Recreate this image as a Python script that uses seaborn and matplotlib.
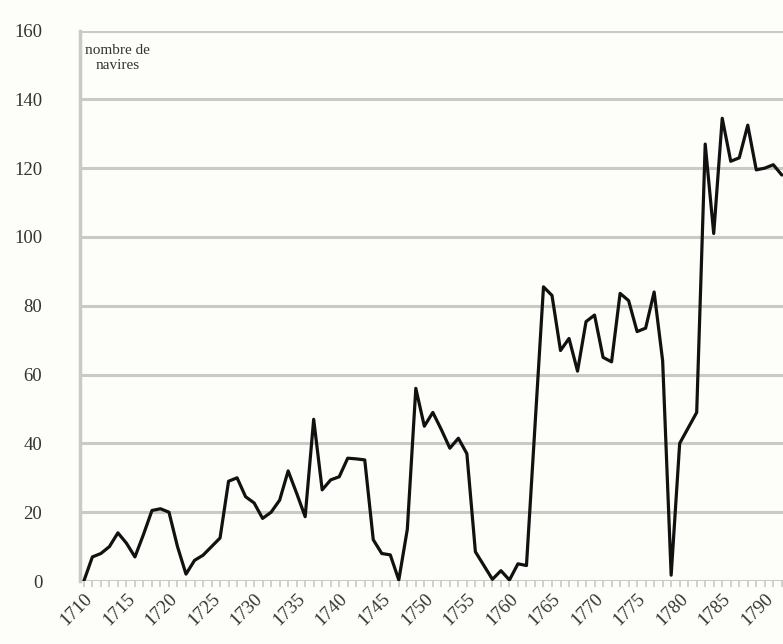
import matplotlib
matplotlib.use('Agg')
import matplotlib.pyplot as plt
from matplotlib.ticker import MultipleLocator
import seaborn as sns
import pandas as pd

# years and number of ships
years = list(range(1710, 1793))
ships = [0, 7, 8, 10, 14, 11, 7, 13.5, 20.5, 21, 20, 10, 2, 6, 7.5, 10, 12.5,
         29, 30, 24.5, 22.7, 18.2, 20, 23.5, 32, 25.5, 18.7, 47, 26.5, 29.4,
         30.3, 35.7, 35.5, 35.2, 12, 8, 7.6, 0.3, 15, 56, 45, 49, 44, 38.6,
         41.5, 37, 8.5, 4.5, 0.5, 3, 0.3, 5, 4.5, 45, 85.5, 83, 67, 70.5, 61,
         75.4, 77.3, 65, 63.7, 83.6, 81.5, 72.5, 73.5, 84, 64, 1.7, 40, 44.5,
         49, 127, 101, 134.5, 122, 123, 132.5, 119.5, 120, 121, 118]
y_ticks = [0, 20, 40, 60, 80, 100, 120, 140, 160]

df = pd.DataFrame({'annee': years, 'navires': ships})

sns.set_style("white")
plt.rcParams['font.family'] = ['Liberation Serif', 'DejaVu Serif']

grid_col = '#c9c9c6'
bg = '#fdfdf9'

fig = plt.figure(figsize=(7.83, 6.44), dpi=100, facecolor=bg)
ax = fig.add_axes([0.102, 0.0978, 0.898, 0.8548])
ax.set_facecolor(bg)

sns.lineplot(data=df, x='annee', y='navires', ax=ax, color='#111111',
             linewidth=2.3, zorder=3)

ax.set_xlim(1709.53, 1792.14)
ax.set_ylim(0, 160)
ax.set_yticks(y_ticks)
ax.xaxis.set_major_locator(MultipleLocator(5))
ax.xaxis.set_minor_locator(MultipleLocator(1))

ax.grid(axis='y', color=grid_col, linewidth=2.2)
ax.set_axisbelow(True)
for side in ['top', 'right', 'bottom']:
    ax.spines[side].set_visible(False)
ax.spines['left'].set_color(grid_col)
ax.spines['left'].set_linewidth(2.5)

ax.tick_params(axis='y', which='major', length=6, width=2.2, color=grid_col,
               pad=21, labelsize=13.5, labelcolor='#333333')
ax.tick_params(axis='x', which='both', length=4, width=1.2, color=grid_col,
               direction='out', bottom=True)
ax.tick_params(axis='x', which='major', pad=3, labelsize=13.5,
               labelcolor='#333333')
for lab in ax.get_xticklabels():
    lab.set_rotation(45)
    lab.set_ha('right')
    lab.set_va('top')
    lab.set_rotation_mode('anchor')

ax.set_xlabel('')
ax.set_ylabel('')

ax.text(1714.0, 156, 'nombre de\nnavires', ha='center', va='top',
        fontsize=11, color='#333333', linespacing=1.15)

plt.savefig('out.png', dpi=100, facecolor=bg)
